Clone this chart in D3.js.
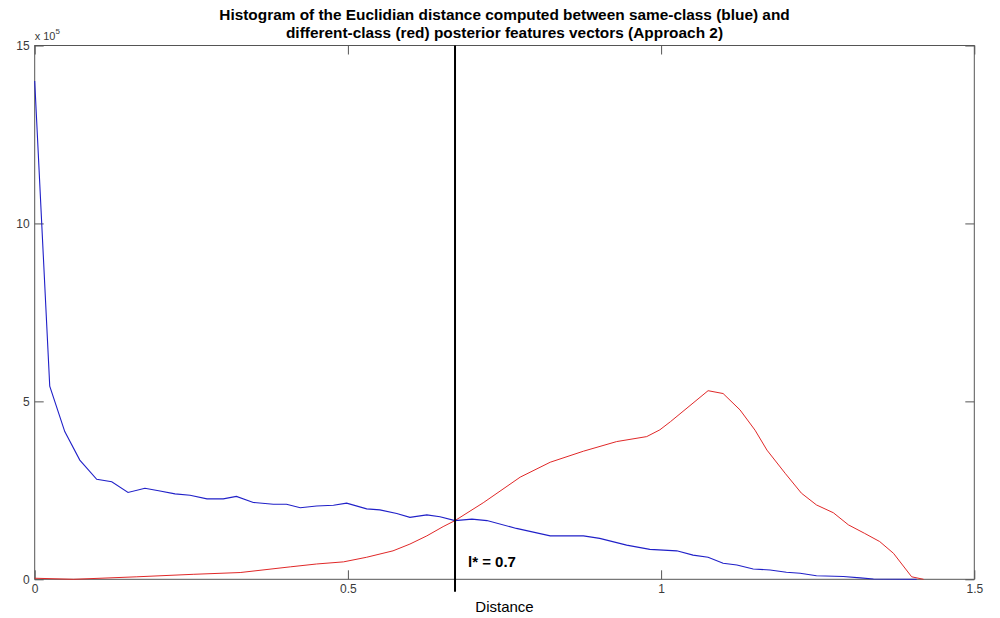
<!DOCTYPE html>
<html>
<head>
<meta charset="utf-8">
<script src="https://cdn.jsdelivr.net/npm/d3@7"></script>
<style>
  html, body { margin: 0; padding: 0; background: #fff; }
  svg { display: block; font-family: "Liberation Sans", Arial, sans-serif; }
</style>
</head>
<body>
<svg id="chart" width="1000" height="618"></svg>
<script>
// ---- data (y values in units of 1e5) ----
const blueX = [0.000,0.024,0.048,0.072,0.099,0.123,0.149,0.176,0.200,0.224,0.248,0.275,0.301,0.322,0.349,0.381,0.402,0.424,0.450,0.477,0.498,0.530,0.551,0.578,0.599,0.626,0.647,0.671,0.698,0.722,0.769,0.823,0.876,0.902,0.945,0.982,1.025,1.051,1.075,1.099,1.121,1.147,1.174,1.200,1.222,1.248,1.291,1.318,1.339,1.408];
const blueY = [14.0,5.43,4.15,3.35,2.81,2.74,2.44,2.56,2.48,2.40,2.36,2.26,2.26,2.33,2.16,2.11,2.11,2.01,2.06,2.08,2.14,1.98,1.95,1.85,1.74,1.81,1.76,1.65,1.69,1.65,1.43,1.22,1.22,1.15,0.96,0.84,0.80,0.68,0.62,0.45,0.40,0.29,0.26,0.20,0.17,0.10,0.08,0.04,0.01,0.00];
const redX = [0.000,0.062,0.163,0.253,0.328,0.408,0.450,0.493,0.530,0.572,0.599,0.626,0.652,0.671,0.716,0.775,0.823,0.876,0.929,0.977,0.998,1.015,1.075,1.099,1.126,1.150,1.169,1.198,1.224,1.248,1.275,1.299,1.325,1.349,1.371,1.400,1.419];
const redY = [0.03,0.00,0.07,0.14,0.19,0.35,0.43,0.49,0.62,0.80,0.99,1.22,1.48,1.65,2.15,2.87,3.29,3.60,3.87,4.01,4.20,4.43,5.30,5.22,4.76,4.19,3.63,2.98,2.42,2.09,1.87,1.53,1.29,1.06,0.73,0.07,0.00];
const xTicks = [0, 0.5, 1, 1.5];
const xTickLabels = ["0", "0.5", "1", "1.5"];
const yTicks = [0, 5, 10, 15];
const yTickLabels = ["0", "5", "10", "15"];
const thresholdX = 0.671;
const thresholdLabel = "l* = 0.7";
const titleLines = ["Histogram of the Euclidian distance computed between same-class (blue) and",
                    "different-class (red) posterior features vectors (Approach 2)"];
const xLabel = "Distance";

// ---- layout ----
const svg = d3.select("#chart");
const L = 34.7, R = 974.3, T = 45.5, B = 579.3;
const x = d3.scaleLinear().domain([0, 1.5]).range([L, R]);
const y = d3.scaleLinear().domain([0, 15]).range([B, T]);
const axisColor = "#555";
const tickLen = 9;

// axes
function styleAxis(g, labels) {
  g.select(".domain").remove();
  g.selectAll(".tick line").attr("stroke", axisColor);
  g.selectAll(".tick text").attr("fill", "#3a3a3a").style("font-size", "12px")
    .style("font-family", "Liberation Sans, Arial, sans-serif");
  if (!labels) g.selectAll(".tick text").remove();
}
svg.append("g").attr("transform", `translate(0,${B})`)
  .call(d3.axisBottom(x).tickValues(xTicks).tickFormat((d, i) => xTickLabels[i]).tickSizeInner(-tickLen).tickSizeOuter(0).tickPadding(5))
  .call(g => styleAxis(g, true));
svg.append("g").attr("transform", `translate(0,${T})`)
  .call(d3.axisTop(x).tickValues(xTicks).tickSizeInner(-tickLen).tickSizeOuter(0))
  .call(g => styleAxis(g, false));
svg.append("g").attr("transform", `translate(${L},0)`)
  .call(d3.axisLeft(y).tickValues(yTicks).tickFormat((d, i) => yTickLabels[i]).tickSizeInner(-tickLen).tickSizeOuter(0).tickPadding(5))
  .call(g => styleAxis(g, true));
svg.append("g").attr("transform", `translate(${R},0)`)
  .call(d3.axisRight(y).tickValues(yTicks).tickSizeInner(-tickLen).tickSizeOuter(0))
  .call(g => styleAxis(g, false));

// box
svg.append("rect").attr("x", L).attr("y", T).attr("width", R - L).attr("height", B - T)
  .attr("fill", "none").attr("stroke", axisColor).attr("stroke-width", 1);

// lines
const line = d3.line().x(d => x(d[0])).y(d => y(d[1]));
svg.append("path").datum(redX.map((v, i) => [v, redY[i]]))
  .attr("d", line).attr("fill", "none").attr("stroke", "#e02828").attr("stroke-width", 1);
svg.append("path").datum(blueX.map((v, i) => [v, blueY[i]]))
  .attr("d", line).attr("fill", "none").attr("stroke", "#2020c8").attr("stroke-width", 1.1);

// threshold line
svg.append("line").attr("x1", x(thresholdX)).attr("x2", x(thresholdX))
  .attr("y1", y(15)).attr("y2", y(-0.35)).attr("stroke", "#000").attr("stroke-width", 2);
svg.append("text").attr("x", x(thresholdX) + 13).attr("y", 566.5)
  .style("font-size", "15px").style("font-weight", "bold").attr("fill", "#000").text(thresholdLabel);

// exponent label
const ex = svg.append("text").attr("x", L).attr("y", 40).attr("fill", "#3a3a3a").style("font-size", "11px");
ex.append("tspan").text("x 10");
ex.append("tspan").attr("dy", -6).style("font-size", "8px").text("5");

// x label
svg.append("text").attr("x", (L + R) / 2).attr("y", 612).attr("text-anchor", "middle")
  .style("font-size", "15px").attr("fill", "#000").text(xLabel);

// title
svg.append("g").selectAll("text").data(titleLines).join("text")
  .attr("x", (L + R) / 2).attr("y", (d, i) => 19.5 + i * 18).attr("text-anchor", "middle")
  .style("font-size", "15.4px").style("font-weight", "bold").attr("fill", "#000").text(d => d);
</script>
</body>
</html>
